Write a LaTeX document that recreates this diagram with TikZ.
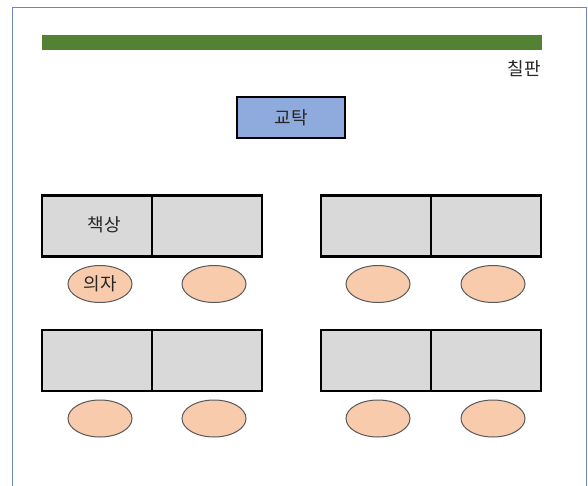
\documentclass[tikz,border=0pt]{standalone}
\usepackage{fontspec}
\setmainfont{Noto Sans CJK KR}
\usetikzlibrary{shapes.geometric}
\definecolor{framec}{HTML}{6A85C2}
\definecolor{boardc}{HTML}{548235}
\definecolor{podiumc}{HTML}{8FAADC}
\definecolor{deskc}{HTML}{D9D9D9}
\definecolor{chairc}{HTML}{F8CBAD}
\definecolor{txtc}{HTML}{262626}
\tikzset{
  desk/.style={draw=black, fill=deskc, line width=2.8pt, minimum width=110pt, minimum height=61pt, inner sep=0pt, outer sep=0pt, text=txtc, font=\fontsize{18}{20}\selectfont},
  chair/.style={ellipse, draw=black!65, fill=chairc, line width=1pt, minimum width=64pt, minimum height=37pt, inner sep=0pt, text=txtc, font=\fontsize{18}{20}\selectfont},
  podium/.style={draw=black, fill=podiumc, line width=2.8pt, minimum width=108pt, minimum height=41pt, inner sep=0pt, text=txtc, font=\fontsize{18}{20}\selectfont},
  lbl/.style={text=txtc, font=\fontsize{18}{20}\selectfont, inner sep=0pt}
}
\begin{document}
\begin{tikzpicture}[x=1pt,y=-1pt]
\useasboundingbox (0,0) rectangle (588,486);
\fill[white] (0,0) rectangle (588,486);
\draw[framec, line width=1pt] (12.5,490) -- (12.5,7.5) -- (586.5,7.5) -- (586.5,490);
% blackboard
\fill[boardc] (42,35) rectangle (542,50);
\node[lbl] (board) at (524,69) {칠판};
% podium
\node[podium] (podium) at (291,117.5) {교탁};
% desks
\node[desk] (d1) at (97,226) {};
\node[lbl] (d1t) at (104,225) {책상};
\node[desk] (d2) at (207,226) {};
\node[desk] (d3) at (376,226) {};
\node[desk] (d4) at (486,226) {};
\node[desk] (d5) at (97,360.5) {};
\node[desk] (d6) at (207,360.5) {};
\node[desk] (d7) at (376,360.5) {};
\node[desk] (d8) at (486,360.5) {};
% chairs
\node[chair] (c1) at (100,284) {의자};
\node[chair] (c2) at (214,284) {};
\node[chair] (c3) at (378,284) {};
\node[chair] (c4) at (493,284) {};
\node[chair] (c5) at (100,418.5) {};
\node[chair] (c6) at (214,418.5) {};
\node[chair] (c7) at (378,418.5) {};
\node[chair] (c8) at (493,418.5) {};
\end{tikzpicture}
\end{document}
